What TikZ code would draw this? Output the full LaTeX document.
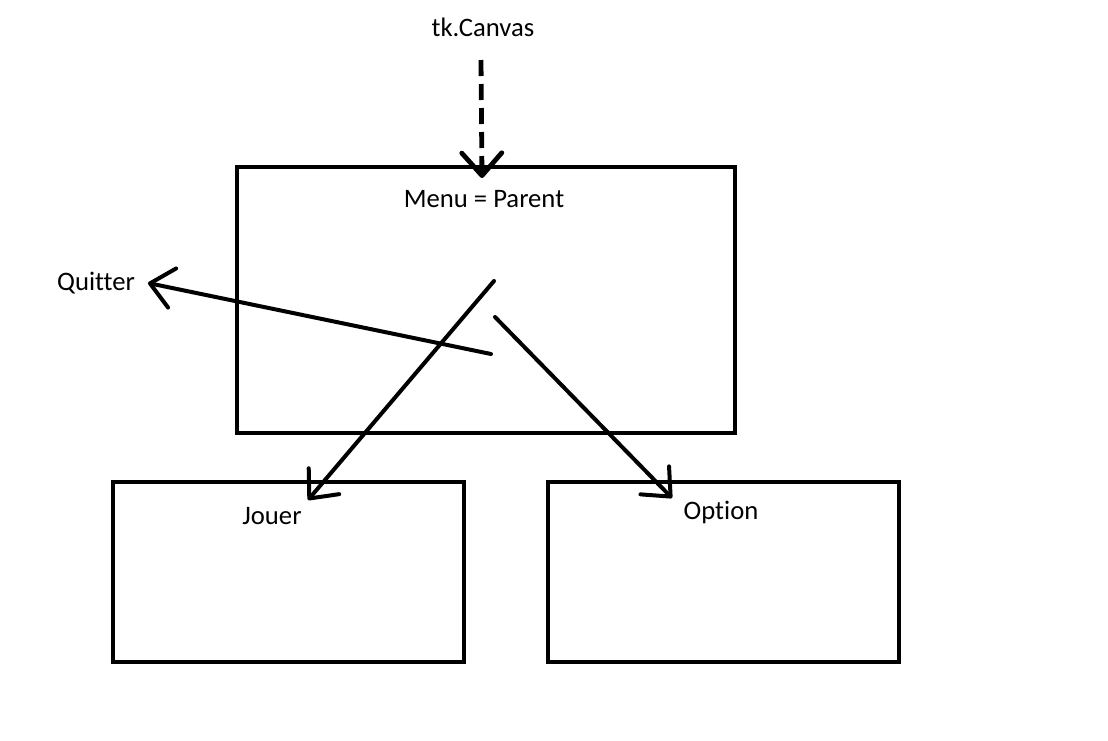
\documentclass[tikz,border=0pt]{standalone}
\usepackage{fontspec}
\setmainfont{Carlito}[Ligatures={NoCommon}]
\usetikzlibrary{arrows.meta}
\begin{document}
\begin{tikzpicture}[x=0.75pt,y=-0.75pt,
  box/.style={draw=black,line width=3pt,minimum width=#1,minimum height=135pt,inner sep=0pt,outer sep=0pt},
  lbl/.style={font=\fontsize{20}{24}\selectfont,inner sep=0pt,anchor=center},
  conn/.style={line width=3pt,line cap=round,line join=round,-{Straight Barb[length=17pt,width=30pt,line cap=round,line join=round]}},
  dconn/.style={conn,line width=3.6pt,dash pattern=on 12pt off 6pt,line cap=butt}]
\useasboundingbox (0,0) rectangle (1108,740);
\node[box=373.5pt,minimum height=199.5pt] (menu) at (486,300) {};
\node[box=263.25pt] (jouer) at (288.5,572) {};
\node[box=263.25pt] (option) at (723.5,572) {};
\node[lbl] (tkc) at (483,27) {tk.Canvas};
\node[lbl] (menut) at (484,199) {Menu = Parent};
\node[lbl] (quit) at (96,283) {Quitter};
\node[lbl] (jouert) at (272,516) {Jouer};
\node[lbl] (optiont) at (721,512) {Option};
\coordinate (cs) at (481,60);
\coordinate (ct) at (482,178);
\coordinate (qs) at (491,354);
\coordinate (qt) at (148,283);
\coordinate (js) at (494,281);
\coordinate (jt) at (308,500);
\coordinate (os) at (495,317);
\coordinate (ot) at (672,498);
\draw[dconn] (cs) -- (ct);
\draw[conn] (qs) -- (qt);
\draw[conn] (js) -- (jt);
\draw[conn] (os) -- (ot);
\end{tikzpicture}
\end{document}
